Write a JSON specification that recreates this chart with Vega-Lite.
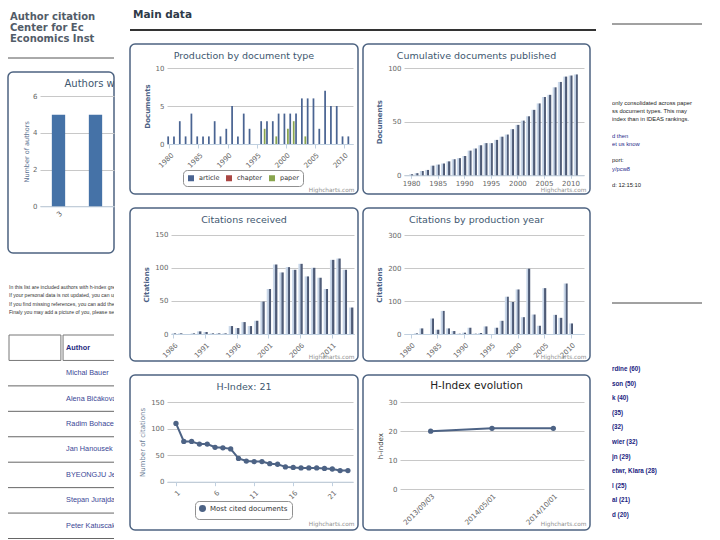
{
"$schema": "https://vega.github.io/schema/vega-lite/v6.json",
"background": "white",
"padding": {"left": 7, "top": 0, "right": 0, "bottom": 0},
"spacing": 14,
"resolve": {"scale": {"color": "independent"}, "legend": {"color": "independent"}},
"config": {
  "font": "DejaVu Sans",
  "view": {"stroke": null},
  "axis": {"labelFont": "DejaVu Sans", "labelFontSize": 7, "labelColor": "#666666", "titleFont": "DejaVu Sans", "titleFontSize": 7, "titleColor": "#4d6285", "titleFontWeight": "bold", "domainColor": "#c0d0e0", "tickColor": "#c0d0e0", "gridColor": "#c8c8c8", "tickSize": 4, "labelPadding": 3, "labelFlush": false, "labelOverlap": false, "labelBound": false},
  "axisY": {"domain": false, "ticks": false, "grid": true},
  "axisX": {"grid": false, "titleFontSize": 5.8, "titleColor": "#909090", "titleFontWeight": "normal", "titleAlign": "right", "titleAnchor": "end", "titleBaseline": "bottom"},
  "title": {"font": "DejaVu Sans", "fontSize": 9.5, "fontWeight": "normal", "color": "#3E576F", "anchor": "middle", "offset": -16},
  "legend": {"labelFont": "DejaVu Sans", "labelFontSize": 6.5, "labelColor": "#333333", "symbolSize": 36, "strokeColor": "#909090", "cornerRadius": 4, "padding": 4, "columnPadding": 5}
},
"hconcat": [
 {
  "spacing": 0,
  "resolve": {"scale": {"color": "independent"}, "legend": {"color": "independent"}},
  "vconcat": [
   {
    "width": 106, "height": 57,
    "data": {"values": [{"line": 1, "text": "Author citation"}, {"line": 2, "text": "Center for Ec"}, {"line": 3, "text": "Economics Inst"}]},
    "mark": {"type": "text", "align": "left", "baseline": "middle", "font": "DejaVu Sans", "fontSize": 10, "fontWeight": "bold", "color": "#525c68", "clip": true, "dx": 2},
    "encoding": {
      "y": {"field": "line", "type": "ordinal", "scale": {"type": "point", "range": [11, 45]}, "axis": null},
      "x": {"datum": 0, "type": "quantitative", "scale": {"domain": [0, 1]}, "axis": null},
      "text": {"field": "text"}
    }
   },
   {
    "width": 106, "height": 13,
    "data": {"values": [{"v": 1}]},
    "mark": {"type": "rule", "color": "#555555", "strokeWidth": 1},
    "encoding": {"y": {"field": "v", "type": "quantitative", "scale": {"domain": [0, 1]}, "axis": null}}
   },
   {
    "width": 106, "height": 181,
    "view": {"stroke": "#4d6381", "strokeWidth": 1.5, "cornerRadius": 5},
    "layer": [
     {
      "data": {"values": [{"h": "3", "authors": 5}, {"h": "4", "authors": 5}]},
      "mark": {"type": "bar", "color": "#4572A7", "clip": true},
      "encoding": {
        "x": {"field": "h", "type": "ordinal", "scale": {"type": "band", "domain": ["3", "4"], "range": [32, 106], "paddingInner": 0.64, "paddingOuter": 0.32}, "axis": {"values": ["3"], "labelAngle": -45, "offset": -46.7, "title": null, "ticks": false}},
        "y": {"field": "authors", "type": "quantitative", "scale": {"domain": [0, 6], "range": [134.3, 24.3], "nice": false}, "axis": {"values": [0, 2, 4, 6], "offset": -32, "title": "Number of authors", "titleFontWeight": "normal", "titleFontSize": 6.5, "titleColor": "#5a6f8f", "titlePadding": 3}}
      }
     },
     {
      "data": {"values": [{"t": "Authors w"}]},
      "mark": {"type": "text", "align": "left", "baseline": "middle", "fontSize": 10, "color": "#3E576F", "clip": true, "dx": 6, "dy": -12},
      "encoding": {"x": {"datum": "3", "type": "ordinal"}, "y": {"datum": 6, "type": "quantitative"}, "text": {"field": "t"}}
     }
    ]
   },
   {
    "width": 106, "height": 71,
    "data": {"values": [
      {"line": 1, "text": "In this list are included authors with h-index greater than one."},
      {"line": 2, "text": "If your personal data is not updated, you can update it at RePEc."},
      {"line": 3, "text": "If you find missing references, you can add them at RePEc."},
      {"line": 4, "text": "Finaly you may add a picture of you, please send it to us."}]},
    "mark": {"type": "text", "align": "left", "baseline": "middle", "font": "Liberation Sans", "fontSize": 5.1, "color": "#333333", "clip": true, "dx": 1},
    "encoding": {
      "y": {"field": "line", "type": "ordinal", "scale": {"type": "point", "range": [29, 62]}, "axis": null},
      "x": {"datum": 0, "type": "quantitative", "scale": {"domain": [0, 1]}, "axis": null},
      "text": {"field": "text"}
    }
   },
   {
    "width": 106, "height": 218,
    "layer": [
     {
      "data": {"values": [{"row": "0", "col": "c1"}, {"row": "0", "col": "c2"}]},
      "mark": {"type": "rect", "fill": null, "stroke": "#777777", "strokeWidth": 1, "clip": true},
      "encoding": {
        "x": {"field": "col", "type": "nominal", "scale": {"type": "band", "domain": ["c1", "c2", "c3"], "range": [1, 161], "paddingInner": 0.04, "paddingOuter": 0}, "axis": null},
        "y": {"field": "row", "type": "ordinal", "scale": {"type": "band", "domain": ["0", "1", "2", "3", "4", "5", "6", "7"], "range": [10, 213.5], "paddingInner": 0, "paddingOuter": 0}, "axis": null}
      }
     },
     {
      "data": {"values": [{"row": "1"}, {"row": "2"}, {"row": "3"}, {"row": "4"}, {"row": "5"}, {"row": "6"}, {"row": "7"}]},
      "mark": {"type": "rule", "color": "#666666", "strokeWidth": 1},
      "encoding": {"y": {"field": "row", "type": "ordinal", "bandPosition": 1}}
     },
     {
      "data": {"values": [{"row": "0", "col": "c2", "name": "Author"}]},
      "mark": {"type": "text", "align": "left", "baseline": "middle", "font": "Liberation Sans", "fontSize": 7.3, "fontWeight": "bold", "color": "#1f2a80", "clip": true, "dx": 3},
      "encoding": {
        "x": {"field": "col", "type": "nominal", "bandPosition": 0},
        "y": {"field": "row", "type": "ordinal"},
        "text": {"field": "name"}
      }
     },
     {
      "data": {"values": [{"row": "1", "col": "c2", "name": "Michal Bauer"}, {"row": "2", "col": "c2", "name": "Alena Bičáková"}, {"row": "3", "col": "c2", "name": "Radim Bohacek"}, {"row": "4", "col": "c2", "name": "Jan Hanousek"}, {"row": "5", "col": "c2", "name": "BYEONGJU Jeong"}, {"row": "6", "col": "c2", "name": "Stepan Jurajda"}, {"row": "7", "col": "c2", "name": "Peter Katuscak"}]},
      "mark": {"type": "text", "align": "left", "baseline": "middle", "font": "Liberation Sans", "fontSize": 7.3, "color": "#3a4796", "clip": true, "dx": 3},
      "encoding": {
        "x": {"field": "col", "type": "nominal", "bandPosition": 0},
        "y": {"field": "row", "type": "ordinal"},
        "text": {"field": "name"}
      }
     }
    ]
   }
  ]
 },
 {
  "spacing": 12,
  "resolve": {"scale": {"color": "independent"}, "legend": {"color": "independent"}},
  "vconcat": [
   {
    "width": 466, "height": 30,
    "layer": [
     {
      "data": {"values": [{"t": "Main data"}]},
      "mark": {"type": "text", "align": "left", "baseline": "middle", "fontSize": 10.5, "fontWeight": "bold", "color": "#2e3a48", "dx": 3},
      "encoding": {
        "x": {"datum": 0, "type": "quantitative", "scale": {"domain": [0, 1]}, "axis": null},
        "y": {"datum": 0.5, "type": "quantitative", "scale": {"domain": [0, 1]}, "axis": null},
        "text": {"field": "t"}
      }
     },
     {
      "data": {"values": [{"v": 0}]},
      "mark": {"type": "rule", "color": "#333333", "strokeWidth": 2},
      "encoding": {"y": {"field": "v", "type": "quantitative", "axis": null}}
     }
    ]
   },
   {
    "spacing": 3,
    "resolve": {"scale": {"color": "independent"}, "legend": {"color": "independent"}},
    "hconcat": [
     {
      "width": 228, "height": 150,
      "view": {"stroke": "#4d6381", "strokeWidth": 1.5, "cornerRadius": 5},
      "title": "Production by document type",
      "data": {"values": [
        {"year": 1980, "type": "article", "n": 1}, {"year": 1981, "type": "article", "n": 1}, {"year": 1982, "type": "article", "n": 3},
        {"year": 1983, "type": "article", "n": 1}, {"year": 1984, "type": "article", "n": 4}, {"year": 1985, "type": "article", "n": 1},
        {"year": 1986, "type": "article", "n": 1}, {"year": 1987, "type": "article", "n": 1}, {"year": 1988, "type": "article", "n": 3},
        {"year": 1989, "type": "article", "n": 1}, {"year": 1990, "type": "article", "n": 2}, {"year": 1991, "type": "article", "n": 5},
        {"year": 1992, "type": "article", "n": 1}, {"year": 1993, "type": "article", "n": 4}, {"year": 1994, "type": "article", "n": 2},
        {"year": 1996, "type": "article", "n": 3}, {"year": 1997, "type": "article", "n": 3}, {"year": 1998, "type": "article", "n": 3},
        {"year": 1999, "type": "article", "n": 4}, {"year": 2000, "type": "article", "n": 4}, {"year": 2001, "type": "article", "n": 4},
        {"year": 2002, "type": "article", "n": 4}, {"year": 2003, "type": "article", "n": 6}, {"year": 2004, "type": "article", "n": 6},
        {"year": 2005, "type": "article", "n": 6}, {"year": 2006, "type": "article", "n": 2}, {"year": 2007, "type": "article", "n": 7},
        {"year": 2008, "type": "article", "n": 5}, {"year": 2009, "type": "article", "n": 5}, {"year": 2010, "type": "article", "n": 1},
        {"year": 2011, "type": "article", "n": 1},
        {"year": 1996, "type": "paper", "n": 2}, {"year": 1998, "type": "paper", "n": 1}, {"year": 2000, "type": "paper", "n": 2},
        {"year": 2001, "type": "paper", "n": 3}, {"year": 2003, "type": "paper", "n": 1}
      ]},
      "mark": {"type": "bar"},
      "encoding": {
        "x": {"field": "year", "type": "ordinal", "scale": {"type": "band", "domain": [1980, 1981, 1982, 1983, 1984, 1985, 1986, 1987, 1988, 1989, 1990, 1991, 1992, 1993, 1994, 1995, 1996, 1997, 1998, 1999, 2000, 2001, 2002, 2003, 2004, 2005, 2006, 2007, 2008, 2009, 2010, 2011], "range": [37, 223], "paddingInner": 0.1, "paddingOuter": 0.05},
              "axis": {"values": [1980, 1985, 1990, 1995, 2000, 2005, 2010], "labelAngle": -45, "offset": -50, "title": "Highcharts.com", "titleX": 224, "titleY": 48}},
        "xOffset": {"field": "type", "type": "nominal", "scale": {"domain": ["article", "chapter", "paper"]}},
        "y": {"field": "n", "type": "quantitative", "scale": {"domain": [0, 10], "range": [100, 24], "nice": false}, "axis": {"values": [0, 5, 10], "offset": -37, "title": "Documents", "titlePadding": 5}},
        "color": {"field": "type", "type": "nominal", "scale": {"domain": ["article", "chapter", "paper"], "range": ["#4a6492", "#AA4643", "#89A54E"]},
                  "legend": {"orient": "none", "legendX": 53, "legendY": 126, "direction": "horizontal", "title": null, "symbolType": "square"}}
      }
     },
     {
      "width": 227, "height": 150,
      "view": {"stroke": "#4d6381", "strokeWidth": 1.5, "cornerRadius": 5},
      "title": "Cumulative documents published",
      "data": {"values": [
        {"year": 1980, "docs": 1}, {"year": 1981, "docs": 2}, {"year": 1982, "docs": 4}, {"year": 1983, "docs": 5}, {"year": 1984, "docs": 9},
        {"year": 1985, "docs": 10}, {"year": 1986, "docs": 11}, {"year": 1987, "docs": 13}, {"year": 1988, "docs": 15}, {"year": 1989, "docs": 16},
        {"year": 1990, "docs": 18}, {"year": 1991, "docs": 23}, {"year": 1992, "docs": 25}, {"year": 1993, "docs": 28}, {"year": 1994, "docs": 30},
        {"year": 1995, "docs": 30}, {"year": 1996, "docs": 33}, {"year": 1997, "docs": 36}, {"year": 1998, "docs": 38}, {"year": 1999, "docs": 43},
        {"year": 2000, "docs": 47}, {"year": 2001, "docs": 51}, {"year": 2002, "docs": 55}, {"year": 2003, "docs": 61}, {"year": 2004, "docs": 67},
        {"year": 2005, "docs": 73}, {"year": 2006, "docs": 75}, {"year": 2007, "docs": 82}, {"year": 2008, "docs": 87}, {"year": 2009, "docs": 92},
        {"year": 2010, "docs": 93}, {"year": 2011, "docs": 94}
      ]},
      "mark": {"type": "bar", "size": 4, "color": {"gradient": "linear", "x1": 0, "y1": 0, "x2": 1, "y2": 0, "stops": [{"offset": 0, "color": "#d5e1ef"}, {"offset": 0.45, "color": "#bccbe0"}, {"offset": 0.55, "color": "#56637e"}, {"offset": 1, "color": "#475470"}]}},
      "encoding": {
        "x": {"field": "year", "type": "quantitative", "scale": {"domain": [1979.6, 2011.6], "range": [41, 221], "nice": false, "zero": false},
              "axis": {"values": [1980, 1985, 1990, 1995, 2000, 2005, 2010], "format": "d", "labelAngle": 0, "offset": -18.7, "tickSize": 3, "labelPadding": 1, "title": "Highcharts.com", "titleX": 223, "titleY": 17.5}},
        "y": {"field": "docs", "type": "quantitative", "scale": {"domain": [0, 100], "range": [131.3, 24], "nice": false}, "axis": {"values": [0, 50, 100], "offset": -41, "title": "Documents", "titlePadding": 5}}
      }
     }
    ]
   },
   {
    "spacing": 3,
    "resolve": {"scale": {"color": "independent"}, "legend": {"color": "independent"}},
    "hconcat": [
     {
      "width": 228, "height": 153,
      "view": {"stroke": "#4d6381", "strokeWidth": 1.5, "cornerRadius": 5},
      "title": "Citations received",
      "data": {"values": [
        {"year": 1986, "cites": 1}, {"year": 1987, "cites": 1}, {"year": 1988, "cites": 0}, {"year": 1989, "cites": 1}, {"year": 1990, "cites": 4},
        {"year": 1991, "cites": 3}, {"year": 1992, "cites": 1}, {"year": 1993, "cites": 1}, {"year": 1994, "cites": 1}, {"year": 1995, "cites": 12},
        {"year": 1996, "cites": 9}, {"year": 1997, "cites": 18}, {"year": 1998, "cites": 12}, {"year": 1999, "cites": 20}, {"year": 2000, "cites": 49},
        {"year": 2001, "cites": 68}, {"year": 2002, "cites": 105}, {"year": 2003, "cites": 93}, {"year": 2004, "cites": 101}, {"year": 2005, "cites": 97},
        {"year": 2006, "cites": 106}, {"year": 2007, "cites": 87}, {"year": 2008, "cites": 100}, {"year": 2009, "cites": 85}, {"year": 2010, "cites": 68},
        {"year": 2011, "cites": 112}, {"year": 2012, "cites": 114}, {"year": 2013, "cites": 97}, {"year": 2014, "cites": 40}
      ]},
      "mark": {"type": "bar", "color": {"gradient": "linear", "x1": 0, "y1": 0, "x2": 1, "y2": 0, "stops": [{"offset": 0, "color": "#d5e1ef"}, {"offset": 0.45, "color": "#bccbe0"}, {"offset": 0.55, "color": "#56637e"}, {"offset": 1, "color": "#475470"}]}},
      "encoding": {
        "x": {"field": "year", "type": "ordinal", "scale": {"type": "band", "range": [41, 224], "paddingInner": 0.3, "paddingOuter": 0.1},
              "axis": {"values": [1986, 1991, 1996, 2001, 2006, 2011], "labelAngle": -45, "offset": -27, "title": "Highcharts.com", "titleX": 224, "titleY": 25}},
        "y": {"field": "cites", "type": "quantitative", "scale": {"domain": [0, 150], "range": [126, 26.7], "nice": false}, "axis": {"values": [0, 50, 100, 150], "offset": -41, "title": "Citations", "titlePadding": 5}}
      }
     },
     {
      "width": 227, "height": 153,
      "view": {"stroke": "#4d6381", "strokeWidth": 1.5, "cornerRadius": 5},
      "title": "Citations by production year",
      "data": {"values": [
        {"year": 1981, "cites": 2}, {"year": 1982, "cites": 17}, {"year": 1984, "cites": 47}, {"year": 1985, "cites": 13}, {"year": 1986, "cites": 70},
        {"year": 1987, "cites": 17}, {"year": 1988, "cites": 9}, {"year": 1989, "cites": 1}, {"year": 1990, "cites": 4}, {"year": 1991, "cites": 19},
        {"year": 1992, "cites": 1}, {"year": 1993, "cites": 3}, {"year": 1994, "cites": 23}, {"year": 1996, "cites": 19}, {"year": 1997, "cites": 40},
        {"year": 1998, "cites": 113}, {"year": 1999, "cites": 97}, {"year": 2000, "cites": 135}, {"year": 2001, "cites": 51}, {"year": 2002, "cites": 198},
        {"year": 2003, "cites": 59}, {"year": 2004, "cites": 25}, {"year": 2005, "cites": 139}, {"year": 2007, "cites": 58}, {"year": 2008, "cites": 49},
        {"year": 2009, "cites": 153}, {"year": 2010, "cites": 32}
      ]},
      "mark": {"type": "bar", "size": 4, "color": {"gradient": "linear", "x1": 0, "y1": 0, "x2": 1, "y2": 0, "stops": [{"offset": 0, "color": "#d5e1ef"}, {"offset": 0.45, "color": "#bccbe0"}, {"offset": 0.55, "color": "#56637e"}, {"offset": 1, "color": "#475470"}]}},
      "encoding": {
        "x": {"field": "year", "type": "quantitative", "scale": {"domain": [1979.7, 2011.5], "range": [41, 221], "nice": false, "zero": false},
              "axis": {"values": [1980, 1985, 1990, 1995, 2000, 2005, 2010], "format": "d", "labelAngle": -45, "offset": -27, "title": "Highcharts.com", "titleX": 223, "titleY": 25}},
        "y": {"field": "cites", "type": "quantitative", "scale": {"domain": [0, 300], "range": [126, 27], "nice": false}, "axis": {"values": [0, 100, 200, 300], "offset": -41, "title": "Citations", "titlePadding": 5}}
      }
     }
    ]
   },
   {
    "spacing": 3,
    "resolve": {"scale": {"color": "independent"}, "legend": {"color": "independent"}},
    "hconcat": [
     {
      "width": 228, "height": 155,
      "view": {"stroke": "#4d6381", "strokeWidth": 1.5, "cornerRadius": 5},
      "title": "H-Index: 21",
      "data": {"values": [
        {"rank": 1, "cites": 110, "series": "Most cited documents"}, {"rank": 2, "cites": 76, "series": "Most cited documents"}, {"rank": 3, "cites": 76, "series": "Most cited documents"},
        {"rank": 4, "cites": 71, "series": "Most cited documents"}, {"rank": 5, "cites": 71, "series": "Most cited documents"}, {"rank": 6, "cites": 65, "series": "Most cited documents"},
        {"rank": 7, "cites": 64, "series": "Most cited documents"}, {"rank": 8, "cites": 62, "series": "Most cited documents"}, {"rank": 9, "cites": 44, "series": "Most cited documents"},
        {"rank": 10, "cites": 39, "series": "Most cited documents"}, {"rank": 11, "cites": 38, "series": "Most cited documents"}, {"rank": 12, "cites": 38, "series": "Most cited documents"},
        {"rank": 13, "cites": 34, "series": "Most cited documents"}, {"rank": 14, "cites": 33, "series": "Most cited documents"}, {"rank": 15, "cites": 28, "series": "Most cited documents"},
        {"rank": 16, "cites": 27, "series": "Most cited documents"}, {"rank": 17, "cites": 26, "series": "Most cited documents"}, {"rank": 18, "cites": 26, "series": "Most cited documents"},
        {"rank": 19, "cites": 26, "series": "Most cited documents"}, {"rank": 20, "cites": 25, "series": "Most cited documents"}, {"rank": 21, "cites": 24, "series": "Most cited documents"},
        {"rank": 22, "cites": 21, "series": "Most cited documents"}, {"rank": 23, "cites": 21, "series": "Most cited documents"}
      ]},
      "encoding": {
        "x": {"field": "rank", "type": "quantitative", "scale": {"domain": [-0.15, 23.65], "range": [37, 223], "nice": false, "zero": false},
              "axis": {"values": [1, 6, 11, 16, 21], "labelAngle": -45, "offset": -48.3, "title": "Highcharts.com", "titleX": 224, "titleY": 45}},
        "y": {"field": "cites", "type": "quantitative", "scale": {"domain": [0, 150], "range": [106.7, 27.3], "nice": false}, "axis": {"values": [0, 50, 100, 150], "offset": -37, "title": "Number of citations", "titleFontWeight": "normal", "titleColor": "#6b7d96", "titlePadding": 5}},
        "color": {"field": "series", "type": "nominal", "scale": {"range": ["#4d6385"]},
                  "legend": {"orient": "none", "legendX": 65, "legendY": 126, "title": null, "symbolType": "circle", "labelFontSize": 7, "symbolSize": 30}}
      },
      "layer": [
        {"mark": {"type": "line", "strokeWidth": 2}},
        {"mark": {"type": "point", "filled": true, "size": 28, "opacity": 1}}
      ]
     },
     {
      "width": 227, "height": 155,
      "view": {"stroke": "#4d6381", "strokeWidth": 1.5, "cornerRadius": 5},
      "title": {"text": "H-Index evolution", "fontSize": 10.5, "color": "#222222"},
      "data": {"values": [{"date": "2013/09/03", "h": 20}, {"date": "2014/05/01", "h": 21}, {"date": "2014/10/01", "h": 21}]},
      "encoding": {
        "x": {"field": "date", "type": "ordinal", "scale": {"type": "band", "range": [37, 221], "paddingInner": 0, "paddingOuter": 0},
              "axis": {"labelAngle": -45, "offset": -41, "title": "Highcharts.com", "titleX": 223, "titleY": 37, "domain": false, "ticks": false}},
        "y": {"field": "h", "type": "quantitative", "scale": {"domain": [0, 30], "range": [114, 27.3], "nice": false}, "axis": {"values": [0, 10, 20, 30], "offset": -37, "title": "h-index", "titleFontWeight": "normal", "titleColor": "#333333", "titlePadding": 5}}
      },
      "layer": [
        {"mark": {"type": "line", "strokeWidth": 2, "color": "#4d6385"}},
        {"mark": {"type": "point", "filled": true, "size": 28, "opacity": 1, "color": "#4d6385"}}
      ]
     }
    ]
   }
  ]
 },
 {
  "spacing": 0,
  "resolve": {"scale": {"color": "independent"}, "legend": {"color": "independent"}},
  "vconcat": [
   {
    "width": 90, "height": 24,
    "data": {"values": [{"v": 0}]},
    "mark": {"type": "rule", "color": "#444444", "strokeWidth": 1},
    "encoding": {"y": {"field": "v", "type": "quantitative", "scale": {"domain": [0, 1]}, "axis": null}}
   },
   {
    "width": 90, "height": 278,
    "layer": [
     {
      "data": {"values": [
        {"row": 1, "t": "only consolidated across paper", "kind": "text"},
        {"row": 2, "t": "ss document types. This may", "kind": "text"},
        {"row": 3, "t": "index than in IDEAS rankings.", "kind": "text"},
        {"row": 5, "t": "d then", "kind": "link"},
        {"row": 6, "t": "et us know", "kind": "link"},
        {"row": 8, "t": "port:", "kind": "text"},
        {"row": 9, "t": "y/pcw8", "kind": "link"},
        {"row": 11, "t": "d: 12:15:10", "kind": "text"}
      ]},
      "mark": {"type": "text", "align": "left", "baseline": "middle", "font": "Liberation Sans", "fontSize": 5.8, "clip": true},
      "encoding": {
        "y": {"field": "row", "type": "ordinal", "scale": {"type": "point", "domain": [1, 2, 3, 4, 5, 6, 7, 8, 9, 10, 11], "range": [74, 164]}, "axis": null},
        "x": {"datum": 0, "type": "quantitative", "scale": {"domain": [0, 1]}, "axis": null},
        "text": {"field": "t"},
        "color": {"field": "kind", "type": "nominal", "scale": {"domain": ["text", "link"], "range": ["#222222", "#1f2a8a"]}, "legend": null}
      }
     },
     {
      "data": {"values": [{"v": 0}]},
      "mark": {"type": "rule", "color": "#444444", "strokeWidth": 1},
      "encoding": {"y": {"field": "v", "type": "quantitative", "scale": {"domain": [0, 1]}, "axis": null}}
     }
    ],
    "resolve": {"scale": {"y": "independent"}}
   },
   {
    "width": 90, "height": 238,
    "layer": [
     {
      "data": {"values": [
        {"row": 1, "t": "rdine (60)"}, {"row": 2, "t": "son (50)"}, {"row": 3, "t": "k (40)"}, {"row": 4, "t": "(35)"},
        {"row": 5, "t": "(32)"}, {"row": 6, "t": "wier (32)"}, {"row": 7, "t": "jn (29)"}, {"row": 8, "t": "etwr, Klara (28)"},
        {"row": 9, "t": "l (25)"}, {"row": 10, "t": "al (21)"}, {"row": 11, "t": "d (20)"}
      ]},
      "mark": {"type": "text", "align": "left", "baseline": "middle", "font": "Liberation Sans", "fontSize": 6.3, "fontWeight": "bold", "color": "#1a2380", "clip": true},
      "encoding": {
        "y": {"field": "row", "type": "ordinal", "scale": {"type": "point", "range": [58, 218]}, "axis": null},
        "x": {"datum": 0, "type": "quantitative", "scale": {"domain": [0, 1]}, "axis": null},
        "text": {"field": "t"}
      }
     },
     {
      "data": {"values": [{"v": 0}]},
      "mark": {"type": "rule", "color": "#b0b8c4", "strokeWidth": 1},
      "encoding": {"y": {"field": "v", "type": "quantitative", "scale": {"domain": [0, 1]}, "axis": null}}
     }
    ],
    "resolve": {"scale": {"y": "independent"}}
   }
  ]
 }
]
}
